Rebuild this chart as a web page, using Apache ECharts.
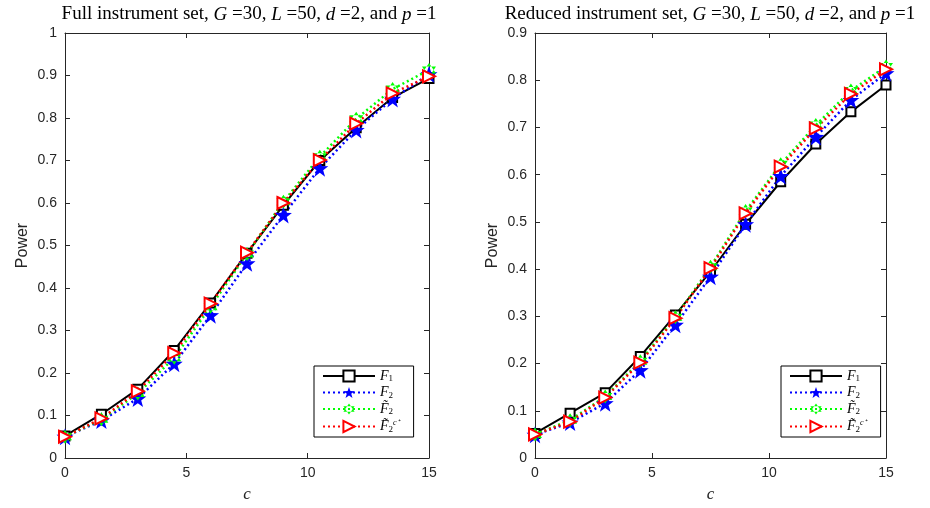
<!DOCTYPE html>
<html>
<head>
<meta charset="utf-8">
<script src="https://cdn.jsdelivr.net/npm/echarts@6/dist/echarts.min.js"></script>
<style>
  html, body { margin: 0; padding: 0; background: #fff; }
  #chart { width: 930px; height: 508px; }
</style>
</head>
<body>
<div id="chart"></div>
<script>
// c values on the x axis
const cValues = [0, 1.5, 3, 4.5, 6, 7.5, 9, 10.5, 12, 13.5, 15];

// full instrument set
const fullF1 = [0.052, 0.103, 0.162, 0.253, 0.365, 0.482, 0.595, 0.700, 0.777, 0.848, 0.893];
const fullF2 = [0.050, 0.088, 0.140, 0.222, 0.336, 0.458, 0.572, 0.682, 0.772, 0.845, 0.903];
const fullF2t = [0.050, 0.091, 0.152, 0.236, 0.356, 0.480, 0.603, 0.709, 0.798, 0.868, 0.913];
const fullF2c = [0.050, 0.093, 0.157, 0.247, 0.363, 0.483, 0.600, 0.701, 0.787, 0.858, 0.898];

// reduced instrument set
const redF1 = [0.052, 0.095, 0.138, 0.215, 0.303, 0.395, 0.495, 0.585, 0.665, 0.733, 0.790];
const redF2 = [0.049, 0.075, 0.116, 0.186, 0.282, 0.384, 0.495, 0.597, 0.680, 0.758, 0.815];
const redF2t = [0.050, 0.080, 0.130, 0.205, 0.298, 0.405, 0.523, 0.622, 0.705, 0.778, 0.829];
const redF2c = [0.050, 0.077, 0.128, 0.202, 0.296, 0.402, 0.518, 0.617, 0.698, 0.771, 0.823];

const seriesNames = ['F1', 'F2', 'F2t', 'F2c'];
const axisColor = '#262626';

const starPath = 'path://M0,-10 L2.35,-3.24 L9.51,-3.09 L3.8,1.24 L5.88,8.09 L0,4 L-5.88,8.09 L-3.8,1.24 L-9.51,-3.09 L-2.35,-3.24 Z';
const hexPath = 'path://M0,-10 L8.66,5 L-8.66,5 Z M0,10 L8.66,-5 L-8.66,-5 Z';
const triPath = 'path://M0,0 L10,5 L0,10 Z';

const pairs = (ys) => cValues.map((c, i) => [c, ys[i]]);

function makeSeries(gridIdx, data) {
  const axisIdx = gridIdx * 2;
  return [
    {
      name: 'F1', type: 'line', xAxisIndex: axisIdx, yAxisIndex: axisIdx,
      data: pairs(data[0]), symbol: 'rect', symbolSize: 9,
      lineStyle: { color: '#000', width: 2 },
      itemStyle: { color: '#fff', borderColor: '#000', borderWidth: 2 }
    },
    {
      name: 'F2', type: 'line', xAxisIndex: axisIdx, yAxisIndex: axisIdx,
      data: pairs(data[1]), symbol: starPath, symbolSize: 17,
      lineStyle: { color: '#0000ff', width: 2.5, type: [2, 3] },
      itemStyle: { color: '#0000ff' }
    },
    {
      name: 'F2t', type: 'line', xAxisIndex: axisIdx, yAxisIndex: axisIdx,
      data: pairs(data[2]), symbol: hexPath, symbolSize: 14,
      lineStyle: { color: '#00ff00', width: 2.5, type: [2, 3] },
      itemStyle: { color: '#00ff00' }
    },
    {
      name: 'F2c', type: 'line', xAxisIndex: axisIdx, yAxisIndex: axisIdx,
      data: pairs(data[3]), symbol: triPath, symbolSize: 12,
      lineStyle: { color: '#ff0000', width: 2.5, type: [2, 3] },
      itemStyle: { color: '#fff', borderColor: '#ff0000', borderWidth: 2 }
    }
  ];
}

function xAxes(gridIdx) {
  const base = {
    type: 'value', gridIndex: gridIdx, min: 0, max: 15, interval: 5,
    axisLine: { onZero: false, lineStyle: { color: axisColor } },
    axisTick: { inside: true, length: 5, lineStyle: { color: axisColor } },
    splitLine: { show: false }
  };
  return [
    Object.assign({}, base, {
      position: 'bottom',
      axisLabel: { color: axisColor, fontSize: 14, fontFamily: 'Liberation Sans', margin: 8 },
      name: 'c', nameLocation: 'middle', nameGap: 28,
      nameTextStyle: { color: axisColor, fontSize: 17, fontFamily: 'Liberation Serif', fontStyle: 'italic' }
    }),
    Object.assign({}, base, { position: 'top', axisLabel: { show: false } })
  ];
}

function yAxes(gridIdx, max) {
  const base = {
    type: 'value', gridIndex: gridIdx, min: 0, max: max, interval: 0.1,
    axisLine: { onZero: false, lineStyle: { color: axisColor } },
    axisTick: { inside: true, length: 5, lineStyle: { color: axisColor } },
    splitLine: { show: false }
  };
  return [
    Object.assign({}, base, {
      position: 'left',
      axisLabel: {
        color: axisColor, fontSize: 14, fontFamily: 'Liberation Sans', margin: 8,
        formatter: v => (Math.round(v * 10) / 10).toString()
      },
      name: 'Power', nameLocation: 'middle', nameGap: 34,
      nameTextStyle: { color: axisColor, fontSize: 16, fontFamily: 'Liberation Sans' }
    }),
    Object.assign({}, base, { position: 'right', axisLabel: { show: false } })
  ];
}

const richLegend = {
  f: { fontFamily: 'Liberation Serif', fontStyle: 'italic', fontSize: 14, color: '#000' },
  s: { fontFamily: 'Liberation Serif', fontSize: 9, color: '#000', padding: [6, 0, 0, 0] },
  u: { fontFamily: 'Liberation Serif', fontStyle: 'italic', fontSize: 8, color: '#000', padding: [0, 0, 8, 0] }
};
const legendLabels = {
  F1: '{f|F}{s|1}',
  F2: '{f|F}{s|2}',
  F2t: '{f|F\u0303}{s|2}',
  F2c: '{f|F\u0303}{s|2}{u|c\u207A}'
};

function legend(left, width) {
  return {
    data: seriesNames,
    orient: 'vertical',
    left: left, top: 366, width: width,
    itemWidth: 52, itemHeight: 14, itemGap: 2,
    padding: [3, 14, 3, 8],
    borderColor: '#000', borderWidth: 1, backgroundColor: '#fff',
    selectedMode: false,
    textStyle: { rich: richLegend },
    formatter: name => legendLabels[name]
  };
}

const titleRich = {
  t: { fontFamily: 'Liberation Serif', fontSize: 19, color: '#000' },
  i: { fontFamily: 'Liberation Serif', fontSize: 19, fontStyle: 'italic', color: '#000' }
};

const chart = echarts.init(document.getElementById('chart'));
chart.setOption({
  animation: false,
  backgroundColor: '#fff',
  title: [
    {
      text: '{t|Full instrument set, }{i|G}{t| =30, }{i|L}{t| =50, }{i|d}{t| =2, and }{i|p}{t| =1}',
      left: 244, top: 0, textAlign: 'center',
      textStyle: { fontWeight: 'normal', rich: titleRich }
    },
    {
      text: '{t|Reduced instrument set, }{i|G}{t| =30, }{i|L}{t| =50, }{i|d}{t| =2, and }{i|p}{t| =1}',
      left: 705, top: 0, textAlign: 'center',
      textStyle: { fontWeight: 'normal', rich: titleRich }
    }
  ],
  grid: [
    { left: 65, top: 33, width: 364, height: 425 },
    { left: 535, top: 33, width: 351, height: 425 }
  ],
  legend: [legend(314, 105), legend(781, 94)],
  xAxis: [...xAxes(0), ...xAxes(1)],
  yAxis: [...yAxes(0, 1), ...yAxes(1, 0.9)],
  series: [
    ...makeSeries(0, [fullF1, fullF2, fullF2t, fullF2c]),
    ...makeSeries(1, [redF1, redF2, redF2t, redF2c])
  ]
});
</script>
</body>
</html>
